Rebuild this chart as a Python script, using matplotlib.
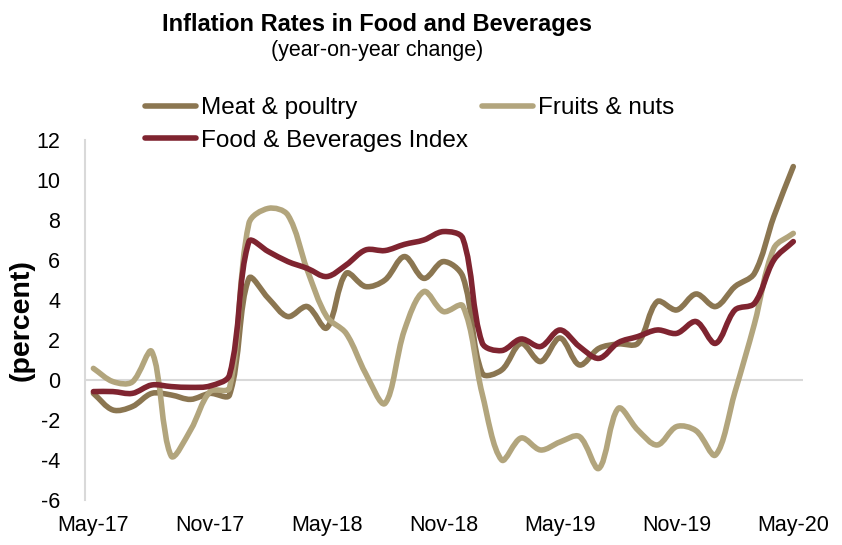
import numpy as np
import matplotlib.pyplot as plt
from matplotlib.path import Path
from matplotlib.patches import PathPatch
from matplotlib.lines import Line2D

plt.rcParams['font.family'] = ['Liberation Sans', 'DejaVu Sans']
plt.rcParams['axes.unicode_minus'] = False

# monthly, May-17 .. May-20
months = np.arange(37)
tick_pos = [0, 6, 12, 18, 24, 30, 36]
tick_labels = ['May-17', 'Nov-17', 'May-18', 'Nov-18', 'May-19', 'Nov-19', 'May-20']

meat = [-0.67, -1.5, -1.33, -0.67, -0.75, -0.97, -0.67, -0.75, 5.08, 4.08, 3.17, 3.67,
        2.6, 5.33, 4.67, 5.0, 6.17, 5.08, 5.92, 5.17, 0.33, 0.5, 1.83, 0.92,
        2.1, 0.75, 1.58, 1.8, 1.83, 3.92, 3.5, 4.3, 3.67, 4.67, 5.33, 8.17, 10.67]
fruits = [0.58, -0.08, -0.1, 1.42, -3.8, -2.5, -0.58, -0.4, 7.83, 8.58, 8.25, 5.5,
          3.17, 2.33, 0.33, -1.17, 2.5, 4.42, 3.42, 3.7, -0.7, -4.0, -2.9, -3.5,
          -3.1, -2.83, -4.42, -1.42, -2.5, -3.25, -2.33, -2.54, -3.75, -0.6, 2.8, 6.58, 7.33]
food = [-0.58, -0.58, -0.67, -0.25, -0.33, -0.37, -0.3, 0.25, 6.92, 6.42, 5.92, 5.58,
        5.17, 5.75, 6.5, 6.47, 6.78, 7.0, 7.42, 7.08, 1.85, 1.47, 2.05, 1.67,
        2.5, 1.67, 1.08, 1.87, 2.17, 2.5, 2.33, 2.92, 1.83, 3.5, 3.83, 6.0, 6.92]

names = ['Meat & poultry', 'Fruits & nuts', 'Food & Beverages Index']
colors = ['#8B7651', '#B2A57D', '#7F2430']


def smooth_path(x, y, sx=19.44, sy=20.0):
    # smoothed line as cubic Bezier segments, tangents scaled by chord length
    p = np.column_stack([np.asarray(x, float), np.asarray(y, float)])
    n = len(p)
    scale = np.array([sx, sy])
    d = np.hypot(*((np.diff(p, axis=0) * scale).T))
    tang = np.zeros_like(p)
    for i in range(n):
        a = max(i - 1, 0)
        b = min(i + 1, n - 1)
        tot = (d[i - 1] if i > 0 else 0) + (d[i] if i < n - 1 else 0)
        tang[i] = (p[b] - p[a]) / tot if tot > 0 else 0
    verts = [p[0]]
    codes = [Path.MOVETO]
    for i in range(n - 1):
        c1 = p[i] + tang[i] * d[i] / 3.0
        c2 = p[i + 1] - tang[i + 1] * d[i] / 3.0
        verts += [c1, c2, p[i + 1]]
        codes += [Path.CURVE4] * 3
    return Path(verts, codes)


fig = plt.figure(figsize=(8.42, 5.45), dpi=100)
ax = fig.add_axes([0.101, 0.0826, 0.8527, 0.6606])

ax.axhline(0, color='#d9d9d9', lw=1.5, zorder=1)
for vals, c in zip([meat, fruits, food], colors):
    patch = PathPatch(smooth_path(months, vals), facecolor='none', edgecolor=c,
                      lw=4.0, capstyle='round', joinstyle='round', zorder=3)
    ax.add_patch(patch)

ax.set_xlim(-0.43, 36.5)
ax.set_ylim(-6, 12)
ax.set_yticks(np.arange(-6, 13, 2))
ax.set_xticks(tick_pos)
ax.set_xticklabels(tick_labels)
ax.tick_params(axis='both', length=0, labelsize=15.5)
ax.tick_params(axis='x', pad=11)
ax.tick_params(axis='y', pad=18)
for s in ['top', 'right', 'bottom']:
    ax.spines[s].set_visible(False)
ax.spines['left'].set_color('#d9d9d9')
ax.spines['left'].set_linewidth(1.5)
ax.set_ylabel('(percent)', fontsize=20.5, fontweight='bold', labelpad=1)

fig.text(0.448, 0.943, 'Inflation Rates in Food and Beverages', ha='center',
         fontsize=17, fontweight='bold')
fig.text(0.448, 0.898, '(year-on-year change)', ha='center', fontsize=15.5)

handles = [Line2D([], [], color=colors[0], lw=4.0, solid_capstyle='round'),
           Line2D([], [], color=colors[2], lw=4.0, solid_capstyle='round'),
           Line2D([], [], color=colors[1], lw=4.0, solid_capstyle='round')]
labels = [names[0], names[2], names[1]]
fig.legend(handles, labels, ncol=2, loc='upper left', bbox_to_anchor=(0.172, 0.822),
           frameon=False, fontsize=17.5, handlelength=2.1, handletextpad=0.2,
           columnspacing=0.6, labelspacing=0.45, borderpad=0, borderaxespad=0)

fig.savefig('out.png', dpi=100)
